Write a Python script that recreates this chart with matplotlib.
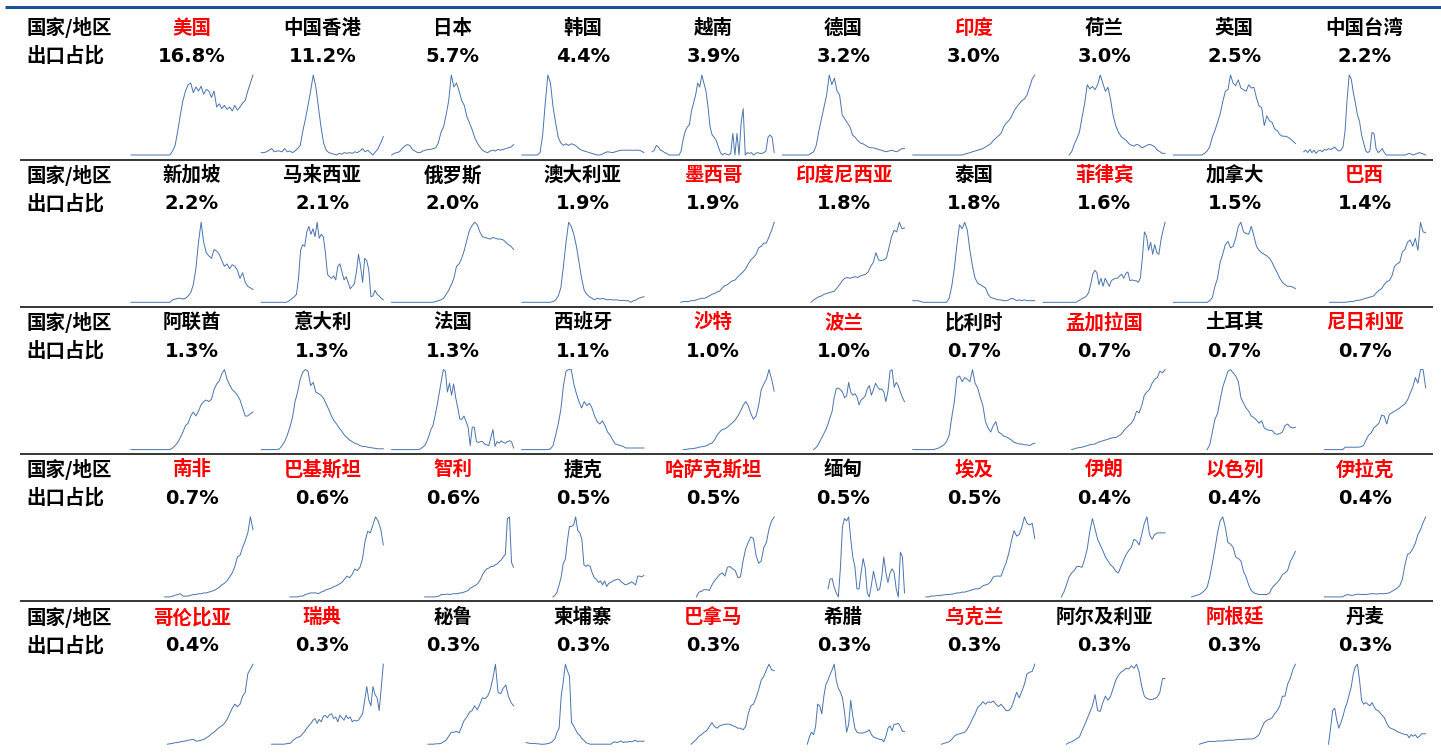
import numpy as np
import matplotlib
matplotlib.use("Agg")
import matplotlib.pyplot as plt

plt.rcParams['font.family'] = ['Noto Sans CJK SC', 'DejaVu Sans']

nan = float("nan")

# ---- countries / regions, ordered by share of exports ----
names = [
    "美国", "中国香港", "日本", "韩国", "越南", "德国", "印度", "荷兰", "英国", "中国台湾",
    "新加坡", "马来西亚", "俄罗斯", "澳大利亚", "墨西哥", "印度尼西亚", "泰国", "菲律宾", "加拿大", "巴西",
    "阿联酋", "意大利", "法国", "西班牙", "沙特", "波兰", "比利时", "孟加拉国", "土耳其", "尼日利亚",
    "南非", "巴基斯坦", "智利", "捷克", "哈萨克斯坦", "缅甸", "埃及", "伊朗", "以色列", "伊拉克",
    "哥伦比亚", "瑞典", "秘鲁", "柬埔寨", "巴拿马", "希腊", "乌克兰", "阿尔及利亚", "阿根廷", "丹麦",
]
shares = [
    16.8, 11.2, 5.7, 4.4, 3.9, 3.2, 3.0, 3.0, 2.5, 2.2,
    2.2, 2.1, 2.0, 1.9, 1.9, 1.8, 1.8, 1.6, 1.5, 1.4,
    1.3, 1.3, 1.3, 1.1, 1.0, 1.0, 0.7, 0.7, 0.7, 0.7,
    0.7, 0.6, 0.6, 0.5, 0.5, 0.5, 0.5, 0.4, 0.4, 0.4,
    0.4, 0.3, 0.3, 0.3, 0.3, 0.3, 0.3, 0.3, 0.3, 0.3,
]
highlighted = {
    "美国", "印度", "墨西哥", "印度尼西亚", "菲律宾", "巴西", "沙特", "波兰", "孟加拉国",
    "尼日利亚", "南非", "巴基斯坦", "智利", "哈萨克斯坦", "埃及", "伊朗", "以色列", "伊拉克",
    "哥伦比亚", "瑞典", "巴拿马", "乌克兰", "阿根廷",
}

# ---- historical share series (relative level, each sparkline scaled on its own) ----
us = [0]*16 + [5, 12, 30, 50, 68, 80, 88, 90, 78, 85, 80, 86, 76, 82, 80, 72,
               80, 60, 64, 58, 62, 57, 60, 55, 62, 56, 60, 65, 68, 80, 90, 100]
hk = [3, 3, 4, 6, 8, 4, 5, 5, 4, 8, 4, 5, 3, 5, 8, 12, 30, 45, 62, 80,
      100, 85, 60, 35, 15, 6, 3, 2, 1, 0, 2, 1, 3, 2, 3, 2, 4, 3, 5, 8,
      4, 6, 3, 0, 4, 8, 15, 23]
jp = [0, 2, 3, 4, 8, 11, 13, 12, 7, 5, 3, 3, 5, 6, 7, 7, 8, 9, 15, 28,
      35, 50, 68, 100, 85, 90, 80, 68, 62, 48, 40, 32, 22, 15, 10, 6, 4, 3, 5, 6,
      5, 7, 6, 7, 8, 9, 10, 13]
kr = [0, 0, 0, 0, 0, 0, 0, 3, 25, 65, 100, 90, 60, 40, 22, 15, 12, 14, 12, 14,
      13, 11, 8, 6, 5, 4, 3, 2, 1, 0, 0, 1, 3, 4, 3.5, 3, 4, 5, 6, 6,
      6, 6, 6, 6, 6, 6, 5, 3]
vn = [4, 6, 12, 10, 6, 5, 3, 2, 0, 0, 0, 0, 0, 0, 5, 20, 30, 35, 38, 55,
      65, 75, 90, 85, 100, 90, 80, 60, 35, 25, 22, 18, 10, 3, 0, 2, 1, 0, 2, 27,
      0, 27, 0, 40, 58, 0, 3, 2, 3, 0, 2, 3, 2, 2, 3, 5, 22, 25, 22, 3]
de = [0]*11 + [2, 4, 12, 30, 45, 60, 75, 100, 88, 96, 80, 75, 50, 45, 40, 35, 25, 22, 18, 15,
               14, 12, 10, 9, 9, 8, 7, 6, 5, 4, 5, 6, 5, 4, 6, 8, 8]
india = [0]*20 + [1, 2, 3, 4, 5, 6, 7, 8, 10, 12, 14, 18, 21, 24, 27, 35, 40, 43, 48, 55,
                  60, 64, 68, 70, 75, 85, 95, 100]
nl = [nan]*10 + [2, 6, 15, 22, 30, 48, 65, 88, 83, 86, 82, 88, 100, 90, 80, 85, 70, 50, 38, 30,
                 25, 22, 20, 16, 14, 13, 15, 14, 11, 12, 14, 15, 14, 12, 8, 6, 4, 4]
uk = [0]*12 + [2, 5, 10, 22, 30, 40, 50, 65, 78, 80, 98, 88, 85, 92, 82, 80, 78, 86, 82, 83,
               70, 60, 58, 36, 48, 42, 40, 32, 30, 25, 23, 23, 22, 20, 17, 14]
tw = [4, 6, 3, 7, 3, 6, 2, 5, 6, 4, 7, 6, 8, 7, 8, 10, 7, 5, 6, 10,
      30, 70, 100, 95, 78, 65, 50, 42, 25, 15, 5, 3, 5, 28, 27, 8, 3, 5, 8, 3,
      0, 0, 0, 0, 0, 0, 0, 0, 0, 0, 1, 2, 1, 0, 1, 2, 3, 2, 1, 0]

sg = [0]*16 + [3, 4, 5, 5, 4, 5, 8, 12, 22, 42, 75, 100, 75, 62, 58, 55, 66, 64, 60, 52,
               45, 48, 42, 47, 45, 40, 30, 37, 25, 20, 18, 16]
my = [0]*13 + [1, 3, 5, 7, 10, 30, 65, 72, 70, 88, 95, 85, 92, 82, 100, 80, 85, 82, 62, 35,
               32, 30, 33, 28, 45, 48, 38, 28, 32, 25, 17, 20, 23, 38, 60, 45, 25, 55, 52, 40,
               7, 8, 15, 10, 8, 5, 3]
ru = [0]*17 + [1, 2, 3, 5, 10, 15, 22, 30, 45, 48, 55, 65, 78, 90, 96, 100, 97, 88, 82, 81,
               80, 79, 81, 80, 79, 79, 78, 75, 72, 70, 66]
au = [0]*12 + [1, 3, 8, 18, 45, 75, 100, 95, 85, 70, 50, 30, 15, 10, 7, 5, 3, 5, 4, 5,
               4, 3, 3.5, 3, 3, 3, 2, 2.5, 2, 2, 0, 2, 3, 5, 6, 7]
mx = [nan]*11 + [0, 1, 1, 1, 2, 2, 3, 4, 5, 5, 6, 8, 10, 11, 13, 14, 18, 21, 22, 25,
                 27, 28, 32, 35, 38, 42, 48, 53, 56, 60, 68, 70, 74, 74, 82, 90, 100]
idn = [nan]*11 + [0, 3, 5, 7, 8, 10, 11, 12, 13, 14, 18, 22, 27, 30, 31, 30, 31, 32, 31, 33,
                  34, 35, 38, 45, 50, 62, 53, 52, 53, 55, 68, 82, 90, 88, 100, 92, 93]
th = [2, 2, 2, 1] + [0]*10 + [5, 20, 42, 72, 97, 92, 100, 90, 65, 45, 30, 24, 22, 20, 18, 10, 6, 5, 4, 3,
                             3, 2, 2, 3, 5, 4, 2, 3, 2, 3, 2, 2, 2, 2]
ph = [0]*17 + [2, 3, 5, 6, 8, 12, 22, 35, 40, 37, 22, 30, 20, 30, 25, 20, 27, 29, 30, 30,
               33, 35, 30, 36, 38, 27, 28, 27, 27, 25, 30, 55, 88, 83, 65, 75, 60, 72, 62, 60,
               78, 90, 100]
ca = [0]*14 + [2, 6, 20, 30, 50, 60, 72, 76, 68, 70, 80, 95, 100, 88, 86, 85, 95, 83, 70, 65,
               62, 60, 58, 55, 50, 43, 37, 30, 25, 22, 20, 20, 19, 17]
br = [nan]*10 + [0, 0, 0, 0, 0, 0, 0, 0.5, 1,
                 1, 2, 2.5, 3, 4, 5, 6, 7, 8, 12, 15, 17, 22, 26, 27, 33, 45, 48, 50, 63,
                 66, 75, 78, 70, 80, 65, 100, 88, 87]

ae = [0]*16 + [2, 5, 9, 15, 22, 30, 33, 42, 47, 42, 48, 56, 60, 62, 60, 63, 75, 82, 86, 95,
               100, 88, 81, 75, 72, 68, 62, 52, 42, 42, 45, 47]
it = [0]*7 + [1, 5, 10, 18, 28, 40, 60, 72, 88, 97, 100, 98, 80, 84, 72, 70, 68, 64, 57, 50,
              42, 36, 32, 27, 23, 18, 15, 12, 10, 8, 7, 5, 4, 4, 3, 2.5, 2, 1.5, 1, 1, 1]
fr = [0]*14 + [1, 3, 5, 10, 17, 25, 30, 42, 55, 70, 85, 100, 98, 72, 83, 68, 82, 65, 52, 38,
               38, 42, 35, 28, 5, 28, 28, 10, 9, 10, 10, 7, 6, 5, 15, 25, 4, 10, 8, 11,
               9, 8, 10, 11, 10, 2]
es = [0]*11 + [1, 5, 18, 32, 50, 80, 98, 100, 100, 82, 70, 60, 52, 60, 55, 58, 52, 42, 35, 32,
               36, 30, 22, 18, 12, 7, 6, 5, 4, 2, 2, 2, 2, 2, 2, 2, 2]
sa = [nan]*12 + [0, 0, 1, 1, 1.5, 2, 3, 3.5, 4, 5, 7, 8, 12, 18, 22, 25, 26, 28, 31, 34,
                 37, 42, 48, 55, 60, 55, 45, 38, 42, 55, 75, 82, 88, 100, 88, 73]
pl = [nan]*15 + [0, 2, 5, 10, 15, 20, 25, 32, 40, 48, 65, 76, 77, 75, 72, 65, 67, 84, 72, 68,
                 70, 66, 56, 62, 64, 67, 76, 80, 68, 75, 83, 78, 75, 76, 72, 60, 73, 98, 100, 78,
                 84, 80, 72, 65, 60]
be = [0]*9 + [1, 2, 4, 6, 10, 18, 40, 60, 90, 92, 85, 90, 88, 85, 100, 83, 77, 65, 55, 35,
              27, 22, 30, 35, 22, 20, 17, 16, 14, 12, 9, 8, 7, 7, 6, 6, 5, 7, 8]
bd = [nan]*11 + [0, 1, 2, 2.5, 3, 4, 5, 6, 6.5, 7, 9, 10, 11, 12, 13, 14, 15, 15, 17, 19,
                 23, 27, 30, 33, 38, 48, 46, 55, 68, 72, 75, 83, 88, 90, 98, 96, 100]
tr = [nan]*13 + [0, 6, 22, 38, 45, 62, 78, 88, 98, 100, 96, 92, 85, 65, 58, 52, 48, 42, 40, 37,
                 33, 36, 27, 25, 24, 24, 20, 19, 20, 22, 30, 32, 28, 27, 28]
ng = [nan]*8 + [0]*8 + [3, 3, 3, 3, 3, 3, 3.5, 5, 12, 18, 21, 27, 30, 33, 43, 42, 32, 44, 46, 48,
                        50, 52, 55, 57, 62, 70, 78, 90, 83, 100, 100, 77]

za = [nan]*13 + [0, 0, 0, 1, 2, 3, 4, 1, 1, 1, 2, 3, 3, 4, 4, 5, 5, 6, 7, 8,
                 10, 12, 15, 17, 20, 25, 30, 38, 50, 52, 62, 70, 80, 100, 84]
pk = [nan]*11 + [0, 0, 0, 0, 1, 1, 3, 4, 5, 5, 5, 4, 6, 7, 9, 10, 11, 13, 14, 16,
                 18, 22, 26, 24, 28, 35, 33, 37, 48, 70, 82, 80, 90, 100, 95, 85, 65]
cl = [nan]*16 + [0, 0, 0, 0, 0, 0, 0.5, 1, 3, 3, 3, 3.5, 3, 3.5, 4, 4, 4, 5, 5, 6,
                 7, 8, 11, 12, 14, 15, 18, 22, 28, 32, 35, 36, 38, 38, 40, 41, 44, 46, 50, 53,
                 98, 100, 43, 37]
cz = [nan]*15 + [0, 2, 6, 15, 25, 42, 47, 70, 88, 88, 90, 100, 83, 80, 72, 40, 38, 40, 38, 30,
                 24, 22, 18, 20, 15, 20, 13, 17, 18, 20, 21, 22, 22, 19, 17, 15, 16, 17, 19, 17,
                 15, 26, 26, 25, 27]
kz = [nan]*17 + [0, 6, 7, 9, 9, 8, 15, 20, 24, 28, 30, 26, 37, 38, 35, 33, 24, 25, 45, 60,
                 68, 75, 73, 52, 42, 45, 62, 68, 85, 95, 100]
mm = [nan]*22 + [10, 22, 23, 12, 5, 0, 36, 88, 98, 95, 100, 72, 50, 38, 10, 10, 30, 48, 36, 5,
                 0, 15, 32, 20, 8, 10, 25, 50, 30, 18, 30, 35, 30, 10, 0, 56, 50, 5]
eg = [nan]*5 + [0, 0, 1, 1, 1.5, 2, 2, 2.5, 3, 3, 3.5, 4, 5, 5, 6, 6, 7, 8, 9, 10,
                10, 11, 14, 15, 16, 19, 25, 26, 26, 26, 35, 43, 55, 70, 83, 76, 78, 87, 100, 92,
                90, 92, 73]
ir = [nan]*7 + [0, 6, 15, 25, 30, 33, 38, 38, 37, 47, 60, 82, 98, 85, 72, 65, 58, 50, 45, 40,
                37, 32, 30, 38, 46, 53, 58, 62, 72, 70, 65, 78, 92, 100, 78, 72, 78, 80, 80, 80, 80]
il = [nan]*7 + [0, 1, 2, 3, 5, 8, 12, 25, 42, 60, 80, 95, 100, 87, 68, 66, 62, 50, 48, 45,
                32, 25, 15, 8, 5, 4, 3, 3, 3, 3, 5, 11, 15, 18, 22, 28, 30, 33, 44, 50, 57]
iq = [nan]*8 + [0]*8 + [2, 3, 2, 2, 3, 3.5, 3, 3, 3, 3.5, 4, 4, 3.5, 4, 4, 4, 4.5, 5, 7, 9,
                        11, 14, 22, 40, 53, 55, 60, 67, 78, 84, 93, 100]

co = [nan]*14 + [0, 0.5, 1, 2, 2, 3, 3.5, 4, 5, 5.5, 6, 4, 4, 5, 6, 8, 10, 13, 15, 18,
                 21, 23, 26, 31, 38, 45, 50, 47, 50, 60, 65, 88, 94, 100]
se = [nan]*5 + [0, 0, 0, 0, 0, 0, 0, 0.5, 1, 1, 4, 6, 8, 9, 10, 13, 16, 20, 23, 26,
                30, 32, 26, 31, 28, 35, 36, 33, 37, 38, 32, 34, 28, 36, 33, 30, 36, 32, 34, 28,
                30, 29, 30, 34, 38, 55, 72, 55, 48, 72, 62, 58, 42, 70, 100]
pe = [nan]*14 + [0, 0, 0, 0.5, 0.5, 1, 3, 5, 10, 15, 15, 16, 14, 22, 30, 34, 40, 42, 48, 43,
                 50, 58, 57, 60, 68, 82, 100, 65, 63, 70, 74, 60, 52, 48]
kh = [nan]*2 + [2, 1.5, 1, 1, 1, 0.5, 0.5, 0, 0, 0, 0.5, 1, 2, 4, 7, 15, 20, 60, 78, 100,
                92, 85, 27, 23, 18, 13, 11, 7, 5, 2, 1, 0] + [0]*10 + \
     [2, 3, 2, 3, 4, 2, 3, 2.5, 3.5, 3, 4, 5, 3, 4, 3.5, 4]
pa = [nan]*15 + [0, 3, 6, 10, 12, 15, 17, 22, 27, 22, 20, 23, 24, 25, 25, 25, 23, 22, 20, 20,
                 18, 22, 38, 48, 50, 58, 68, 80, 85, 93, 100, 93, 92]
gr = [nan]*12 + [0, 9, 15, 12, 22, 50, 48, 38, 60, 75, 80, 87, 93, 100, 80, 70, 65, 58, 40, 15,
                 25, 55, 35, 20, 15, 14, 14, 14, 15, 16, 18, 12, 9, 8, 7, 6, 6, 3, 10, 20,
                 23, 17, 25, 25, 26, 22, 16, 16]
ua = [nan]*11 + [0, 1, 2, 3, 6, 10, 12, 13, 14, 15, 19, 25, 32, 38, 46, 49, 53, 50, 53, 52,
                 54, 50, 47, 50, 46, 42, 42, 46, 55, 65, 58, 66, 75, 88, 90, 91, 100]
dz = [nan]*9 + [0, 2, 3, 5, 7, 9, 17, 24, 32, 40, 48, 62, 42, 41, 52, 60, 55, 60, 70, 80,
                86, 90, 92, 95, 94, 98, 95, 100, 90, 72, 60, 57, 56, 56, 57, 59, 65, 82, 82]
ar = [nan]*10 + [0, 1, 2, 3, 3.5, 3.5, 3.5, 4, 4, 4, 4.5, 5, 5, 5, 5.5, 6, 6, 6, 6.5, 6.5,
                 6.5, 7, 9, 12, 20, 27, 30, 31, 33, 38, 42, 48, 60, 60, 75, 82, 93, 100]
dk = [nan]*12 + [0, 20, 42, 45, 30, 20, 27, 35, 45, 52, 62, 72, 88, 97, 100, 80, 55, 50, 52, 50,
                 48, 52, 47, 43, 42, 39, 36, 33, 27, 22, 20, 19, 18, 16, 15, 14, 13, 12, 12, 8,
                 12, 10, 12, 8, 10, 13, 13, 13]

series = [
    us, hk, jp, kr, vn, de, india, nl, uk, tw,
    sg, my, ru, au, mx, idn, th, ph, ca, br,
    ae, it, fr, es, sa, pl, be, bd, tr, ng,
    za, pk, cl, cz, kz, mm, eg, ir, il, iq,
    co, se, pe, kh, pa, gr, ua, dz, ar, dk,
]

# ---- layout (pixels) ----
W, H = 1441, 754
n_cols = 10
col_left = 131.0
col_pitch = 130.3
spark_w = 122.0
row_top = 75.0
row_pitch = 147.3
spark_h = 80.0
name_y = 28.0
share_y = 56.0
cjk_size = 14

line_color = "#4A74AD"
red = "#FF0000"

fig = plt.figure(figsize=(W / 100, H / 100), dpi=100)
fig.patch.set_facecolor("white")

base = fig.add_axes([0, 0, 1, 1])
base.set_xlim(0, W)
base.set_ylim(H, 0)
base.axis("off")

# rules
base.plot([5, W], [7, 7], color="#1F4E99", lw=2.2, solid_capstyle="butt")
for r in range(1, 5):
    y = 159.5 + (r - 1) * row_pitch
    base.plot([20, 1433], [y, y], color="black", lw=1.1, solid_capstyle="butt")

for r in range(5):
    dy = r * row_pitch
    base.text(26, name_y + dy, "国家/地区", fontsize=cjk_size, fontweight="bold",
              ha="left", va="center", color="black")
    base.text(26, share_y + dy, "出口占比", fontsize=cjk_size, fontweight="bold",
              ha="left", va="center", color="black")

for i, (name, share, values) in enumerate(zip(names, shares, series)):
    r, c = divmod(i, n_cols)
    x0 = col_left + c * col_pitch
    cx = x0 + spark_w / 2
    dy = r * row_pitch
    base.text(cx, name_y + dy, name, fontsize=cjk_size, fontweight="bold",
              ha="center", va="center", color=red if name in highlighted else "black")
    base.text(cx, share_y + dy + 0.5, f"{share:.1f}%", fontsize=14, fontweight="bold",
              family="DejaVu Sans", ha="center", va="center", color="black")

    v = np.asarray(values, dtype=float)
    t = np.linspace(0, 1, len(v))
    y_top = row_top + dy
    ax = fig.add_axes([x0 / W, 1 - (y_top + spark_h) / H, spark_w / W, spark_h / H])
    ax.plot(t, v, color=line_color, lw=0.7, clip_on=False)
    ax.set_xlim(0, 1)
    ax.set_ylim(np.nanmin(v), np.nanmax(v))
    ax.axis("off")

fig.savefig("out.png", dpi=100, facecolor="white")
